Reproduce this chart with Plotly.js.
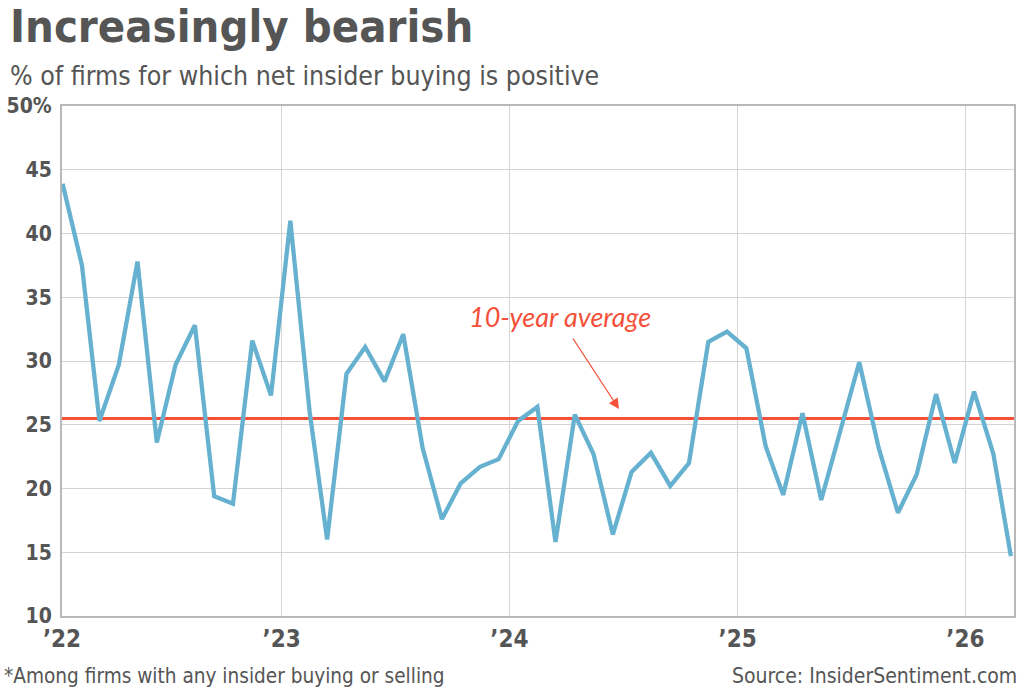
<!DOCTYPE html>
<html>
<head>
<meta charset="utf-8">
<script src="https://cdn.plot.ly/plotly-3.0.1.min.js"></script>
<style>
  html, body { margin: 0; padding: 0; background: #ffffff; }
  #chart { width: 1032px; height: 693px; }
</style>
</head>
<body>
<div id="chart"></div>
<script>
  // monthly readings, Jan 2022 .. Mar 2026 (plotted mid-month)
  const months = [
    "2022-01", "2022-02", "2022-03", "2022-04", "2022-05", "2022-06",
    "2022-07", "2022-08", "2022-09", "2022-10", "2022-11", "2022-12",
    "2023-01", "2023-02", "2023-03", "2023-04", "2023-05", "2023-06",
    "2023-07", "2023-08", "2023-09", "2023-10", "2023-11", "2023-12",
    "2024-01", "2024-02", "2024-03", "2024-04", "2024-05", "2024-06",
    "2024-07", "2024-08", "2024-09", "2024-10", "2024-11", "2024-12",
    "2025-01", "2025-02", "2025-03", "2025-04", "2025-05", "2025-06",
    "2025-07", "2025-08", "2025-09", "2025-10", "2025-11", "2025-12",
    "2026-01", "2026-02", "2026-03",
  ];

  const pctPositive = [
    43.9, 37.5, 25.3, 29.7, 37.8, 23.6, 29.7, 32.8, 19.4, 18.8, 31.6, 27.3,
    41.0, 26.0, 16.0, 29.0, 31.1, 28.4, 32.1, 23.2, 17.6, 20.4, 21.7, 22.3,
    25.3, 26.4, 15.8, 25.8, 22.7, 16.4, 21.3, 22.8, 20.2, 22.0, 31.5, 32.3,
    31.0, 23.3, 19.5, 25.9, 19.1, 24.5, 29.9, 23.2, 18.1, 21.1, 27.4, 22.0,
    27.6, 22.7, 14.7,
  ];

  const tenYearAverage = 25.5;

  const yTickVals = [10, 15, 20, 25, 30, 35, 40, 45, 50];
  const yTickText = ["10", "15", "20", "25", "30", "35", "40", "45", "50%"];
  const xTickVals = ["2022-01-14", "2023-01-01", "2024-01-01", "2025-01-01", "2026-01-01"];
  const xTickText = ["\u201922", "\u201923", "\u201924", "\u201925", "\u201926"];
  const xRange = ["2022-01-14", "2026-03-20"];

  const narrow = "'Liberation Sans Narrow', 'DejaVu Sans Condensed', 'Roboto', sans-serif";
  const gray = "#555555";
  const blue = "#66b1d0";
  const red = "#f5513a";

  // plot area in page pixels, used to place the free text
  const plotLeft = 62;
  const plotRight = 1014;
  const plotTop = 106;
  const plotBottom = 616;

  function px(x) {
    return (x - plotLeft) / (plotRight - plotLeft);
  }

  function py(y) {
    return (plotBottom - y) / (plotBottom - plotTop);
  }

  const traces = [
    {
      x: xRange,
      y: [tenYearAverage, tenYearAverage],
      mode: "lines",
      type: "scatter",
      line: { color: red, width: 3 },
      hoverinfo: "skip",
    },
    {
      x: months.map((m) => m + "-15"),
      y: pctPositive,
      mode: "lines",
      type: "scatter",
      line: { color: blue, width: 4.3 },
    },
  ];

  const layout = {
    width: 1032,
    height: 693,
    margin: { l: plotLeft, r: 1032 - plotRight, t: plotTop, b: 693 - plotBottom, pad: 0 },
    paper_bgcolor: "#ffffff",
    plot_bgcolor: "#ffffff",
    showlegend: false,
    xaxis: {
      type: "date",
      range: xRange,
      tickvals: xTickVals,
      ticktext: xTickText,
      showgrid: true,
      gridcolor: "#d4d4d4",
      gridwidth: 1,
      showline: true,
      linecolor: "#b8b8b8",
      linewidth: 2,
      mirror: true,
      ticks: "",
      zeroline: false,
      tickfont: { family: narrow, size: 24, color: gray, weight: "bold" },
    },
    yaxis: {
      range: [10, 50],
      tickvals: yTickVals,
      ticktext: yTickText,
      showgrid: true,
      gridcolor: "#d4d4d4",
      gridwidth: 1,
      showline: true,
      linecolor: "#b8b8b8",
      linewidth: 2,
      mirror: true,
      ticks: "",
      ticklabelstandoff: 4,
      zeroline: false,
      tickfont: { family: narrow, size: 21, color: gray, weight: "bold" },
    },
    annotations: [
      {
        text: "<b>Increasingly bearish</b>",
        xref: "paper", yref: "paper",
        x: px(8), y: py(-2),
        xanchor: "left", yanchor: "top",
        showarrow: false,
        font: { family: narrow, size: 45, color: gray },
      },
      {
        text: "% of firms for which net insider buying is positive",
        xref: "paper", yref: "paper",
        x: px(8), y: py(58),
        xanchor: "left", yanchor: "top",
        showarrow: false,
        font: { family: narrow, size: 26.5, color: gray },
      },
      {
        text: "*Among firms with any insider buying or selling",
        xref: "paper", yref: "paper",
        x: px(2), y: py(676),
        xanchor: "left", yanchor: "middle",
        showarrow: false,
        font: { family: narrow, size: 20.6, color: gray },
      },
      {
        text: "Source: InsiderSentiment.com",
        xref: "paper", yref: "paper",
        x: px(1019), y: py(676),
        xanchor: "right", yanchor: "middle",
        showarrow: false,
        font: { family: narrow, size: 21, color: gray },
      },
      {
        text: "<i>10-year average</i>",
        xref: "paper", yref: "paper",
        x: px(560), y: py(316),
        xanchor: "center", yanchor: "middle",
        showarrow: false,
        font: { family: "Lato, 'Open Sans', sans-serif", size: 27, color: red },
      },
      {
        text: "",
        xref: "paper", yref: "paper",
        x: px(619), y: py(409),
        ax: -47, ay: -72,
        showarrow: true,
        arrowhead: 2,
        arrowsize: 1.6,
        arrowwidth: 1.3,
        arrowcolor: red,
        standoff: 0,
      },
    ],
  };

  Plotly.newPlot("chart", traces, layout, { displayModeBar: false, staticPlot: true });
</script>
</body>
</html>
